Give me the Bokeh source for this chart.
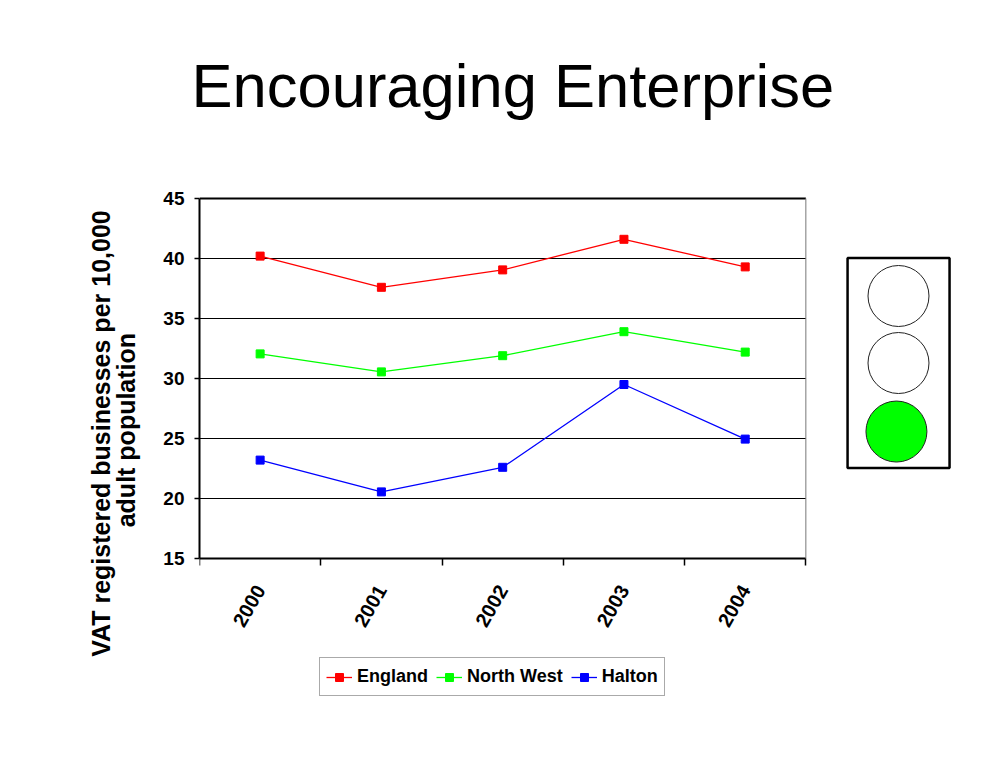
import math
from bokeh.plotting import figure
from bokeh.models import (Range1d, FixedTicker, LinearAxis, Legend, LegendItem)
from bokeh.embed import file_html
from bokeh.resources import INLINE

# ---------------- data ----------------
years = ["2000", "2001", "2002", "2003", "2004"]
england = [40.2, 37.6, 39.05, 41.6, 39.3]
north_west = [32.05, 30.55, 31.9, 33.9, 32.2]
halton = [23.2, 20.55, 22.6, 29.5, 24.95]
y_ticks = [15, 20, 25, 30, 35, 40, 45]
series_names = ["England", "North West", "Halton"]
series_colors = ["#ff0000", "#00ff00", "#0000ff"]
y_title = "VAT  registered businesses per 10,000\nadult population"

SANS = "Liberation Sans"

n = len(years)
xs = [i + 0.5 for i in range(n)]
X_END = 6.3              # room on the right for the traffic-light indicator
Y_LO, Y_HI = 2.667, 49   # room below for labels/legend, above for spacing

p = figure(frame_width=764, frame_height=556,
           x_range=Range1d(0, X_END), y_range=Range1d(Y_LO, Y_HI),
           output_backend="svg", toolbar_location=None,
           min_border_left=199, min_border_top=150, min_border_right=20,
           min_border_bottom=5)
p.background_fill_color = "white"
p.border_fill_color = "white"
p.outline_line_color = None
p.xgrid.visible = False
p.ygrid.visible = False

# title
p.title.text = "Encouraging Enterprise"
p.title.text_font = SANS
p.title.text_font_size = "61.5px"
p.title.text_font_style = "normal"
p.title.text_color = "black"
p.title.align = "left"
p.title.offset = -8
p.title.standoff = 62

# y axis
yax = p.yaxis[0]
yax.bounds = (y_ticks[0], y_ticks[-1])
yax.ticker = FixedTicker(ticks=y_ticks)
yax.axis_line_color = "black"
yax.axis_line_width = 2
yax.major_tick_line_color = "black"
yax.major_tick_line_width = 1.5
yax.major_tick_out = 5
yax.major_tick_in = 0
yax.minor_tick_line_color = None
yax.major_label_text_font = SANS
yax.major_label_text_font_style = "bold"
yax.major_label_text_font_size = "19px"
yax.major_label_text_color = "black"
yax.major_label_standoff = 10

# y axis title as a vertical label placed on an extra axis
y_title_pos = 25.7
ytl = LinearAxis(ticker=FixedTicker(ticks=[y_title_pos]),
                 major_label_overrides={y_title_pos: y_title})
ytl.axis_line_color = None
ytl.major_tick_line_color = None
ytl.minor_tick_line_color = None
ytl.major_label_orientation = "vertical"
ytl.major_label_text_font = SANS
ytl.major_label_text_font_style = "bold"
ytl.major_label_text_font_size = "25px"
ytl.major_label_text_line_height = 0.9
ytl.major_label_text_color = "black"
ytl.major_label_standoff = 14
p.add_layout(ytl, "left")

# x axis with boundary ticks (no labels), pinned to the bottom of the value range
xax = p.xaxis[0]
xax.fixed_location = y_ticks[0]
xax.bounds = (0, n)
xax.ticker = FixedTicker(ticks=list(range(n + 1)))
xax.major_label_overrides = {i: "" for i in range(n + 1)}
xax.major_label_text_font_size = "1px"
xax.axis_line_color = "black"
xax.axis_line_width = 2
xax.major_tick_line_color = "black"
xax.major_tick_line_width = 1.5
xax.major_tick_out = 7
xax.major_tick_in = 0
xax.minor_tick_line_color = None
xax.major_label_standoff = 0

# x axis with year labels at category centres
xlab = LinearAxis(ticker=FixedTicker(ticks=xs), bounds=(0, n),
                  fixed_location=y_ticks[0],
                  major_label_overrides={x: y for x, y in zip(xs, years)})
xlab.axis_line_color = None
xlab.major_tick_line_color = None
xlab.minor_tick_line_color = None
xlab.major_tick_out = 0
xlab.major_label_orientation = math.radians(60)
xlab.major_label_text_font = SANS
xlab.major_label_text_font_style = "bold"
xlab.major_label_text_font_size = "20px"
xlab.major_label_text_color = "black"
xlab.major_label_standoff = 28
p.add_layout(xlab, "below")

# horizontal grid lines / frame lines, limited to the chart area
grid_y = y_ticks[1:-1]
p.segment(x0=[0] * len(grid_y), x1=[n] * len(grid_y), y0=grid_y, y1=grid_y,
          line_color="black", line_width=1)
p.segment(x0=[0], x1=[n], y0=[y_ticks[-1]], y1=[y_ticks[-1]],
          line_color="black", line_width=2)
p.segment(x0=[n], x1=[n], y0=[y_ticks[0]], y1=[y_ticks[-1]],
          line_color="#777777", line_width=1)

# series
items = []
for name, vals, col in zip(series_names, [england, north_west, halton], series_colors):
    ln = p.line(xs, vals, line_color=col, line_width=1.3)
    sc = p.scatter(xs, vals, marker="square", size=8, fill_color=col, line_color=col)
    items.append(LegendItem(label=name, renderers=[ln, sc]))

legend = Legend(items=items, orientation="horizontal", location=(120, 10))
legend.label_text_font = SANS
legend.label_text_font_style = "bold"
legend.label_text_font_size = "18px"
legend.label_text_color = "black"
legend.border_line_color = "#555555"
legend.border_line_width = 1
legend.background_fill_color = "white"
legend.background_fill_alpha = 1
legend.padding = 6
legend.spacing = 8
legend.glyph_width = 26
legend.glyph_height = 20
legend.label_height = 25
legend.label_standoff = 5
legend.margin = 0
p.add_layout(legend)

# ---------------- traffic light indicator (green) ----------------
p.quad(left=[5.344], right=[6.185], top=[40.04], bottom=[22.54],
       fill_color="white", line_color="black", line_width=2.5)
p.circle(x=[5.764, 5.764, 5.747], y=[36.875, 31.29, 25.58], radius=0.2515,
         fill_color=["white", "white", "#00ff00"], line_color="#222222", line_width=1)

open("out.html", "w").write(file_html(p, INLINE))
